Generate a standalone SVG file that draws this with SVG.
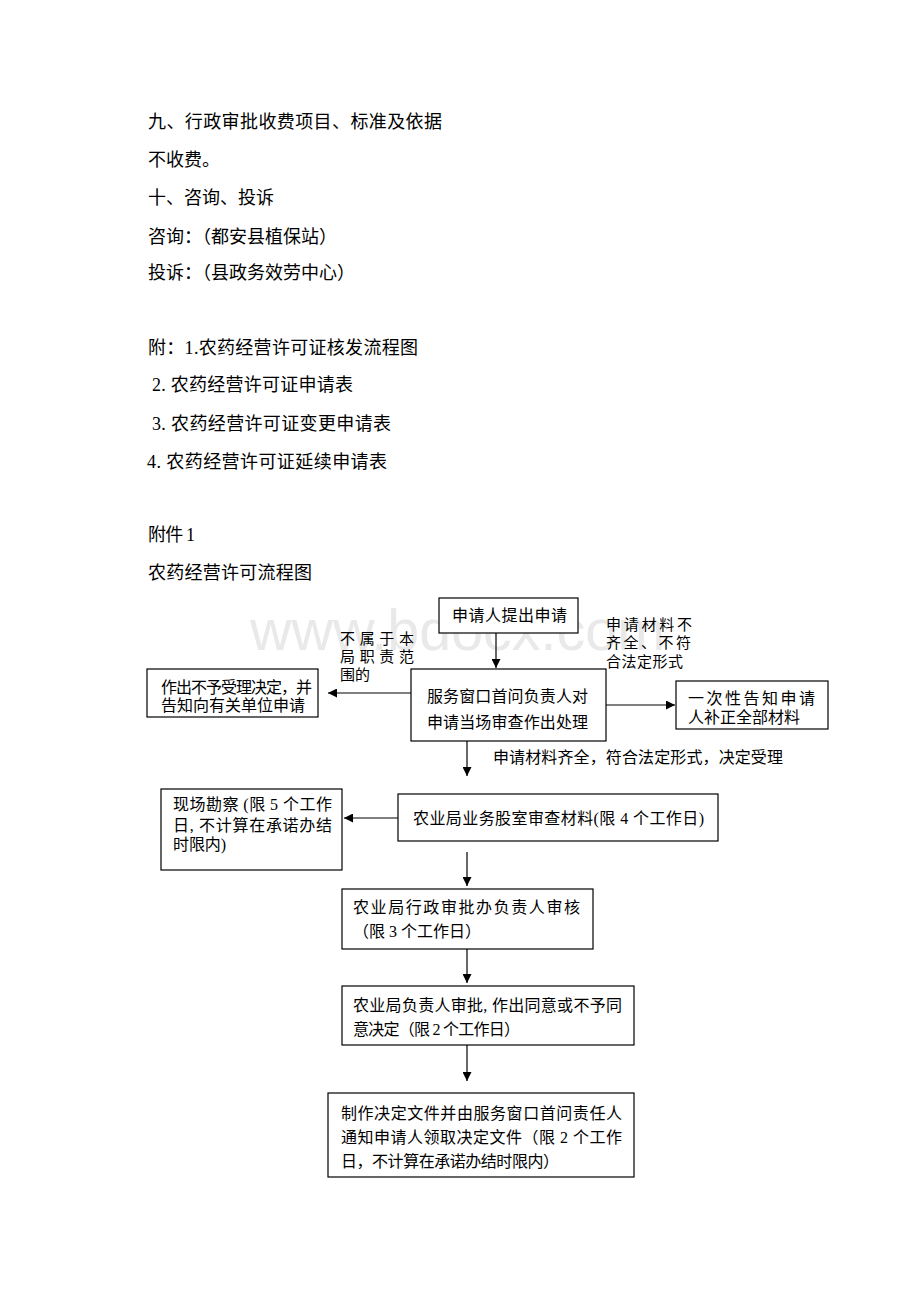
<svg xmlns="http://www.w3.org/2000/svg" width="920" height="1302" viewBox="0 0 920 1302">
<style>
.t{font-family:"Liberation Serif","Noto Sans CJK SC",serif;font-size:18px;fill:#000}
.b{font-family:"Liberation Serif","Noto Sans CJK SC",serif;font-size:16px;fill:#000}
.l{font-family:"Liberation Serif","Noto Sans CJK SC",serif;font-size:15px;fill:#000}
.box{fill:#fff;stroke:#000;stroke-width:1.2}
.c{fill:none;stroke:#000;stroke-width:1.2}
.wm{font-family:"Liberation Sans",Arial,sans-serif;font-size:58px;fill:#e9e9e9}
</style>
<defs>
<marker id="ah" viewBox="0 0 10 10" refX="10" refY="5" markerWidth="9" markerHeight="9" markerUnits="userSpaceOnUse" orient="auto">
<path d="M0,0 L10,5 L0,10 z" fill="#000"/>
</marker>
</defs>
<rect width="920" height="1302" fill="#fff"/>
<text class="wm" x="250" y="650" textLength="415" lengthAdjust="spacingAndGlyphs">www.bdocx.com</text>
<g id="header">
<text class="t" x="148" y="128.3" textLength="294">九、行政审批收费项目、标准及依据</text>
<text class="t" x="148" y="166.3">不收费。</text>
<text class="t" x="148" y="204.3">十、咨询、投诉</text>
<text class="t" x="148" y="243.3">咨询：（都安县植保站）</text>
<text class="t" x="148" y="279.3">投诉：（县政务效劳中心）</text>
<text class="t" x="148" y="354.3" textLength="270">附：1.农药经营许可证核发流程图</text>
<text class="t" x="152" y="391.3" textLength="201">2. 农药经营许可证申请表</text>
<text class="t" x="152" y="430.3" textLength="239">3. 农药经营许可证变更申请表</text>
<text class="t" x="147" y="468.3" textLength="240">4. 农药经营许可证延续申请表</text>
<text class="t" x="148" y="541.3" textLength="47">附件 1</text>
<text class="t" x="148" y="579.3" textLength="164">农药经营许可流程图</text>
</g>
<g id="connectors">
<path class="c" d="M496,633 V668" marker-end="url(#ah)"/>
<path class="c" d="M411,693 H328" marker-end="url(#ah)"/>
<path class="c" d="M606,705 H675" marker-end="url(#ah)"/>
<path class="c" d="M467,741 V776" marker-end="url(#ah)"/>
<path class="c" d="M398,818 H344" marker-end="url(#ah)"/>
<path class="c" d="M467,852 V886" marker-end="url(#ah)"/>
<path class="c" d="M467,949 V983" marker-end="url(#ah)"/>
<path class="c" d="M467,1045 V1081" marker-end="url(#ah)"/>
</g>
<g id="labels">
<text class="l" x="340" y="644.3" textLength="74">不属于本</text>
<text class="l" x="340" y="662.3" textLength="74">局职责范</text>
<text class="l" x="340" y="680.3" textLength="30">围的</text>
<text class="l" x="606" y="630.3" textLength="86">申请材料不</text>
<text class="l" x="606" y="648.3" textLength="85">齐全、不符</text>
<text class="l" x="606" y="667.3" textLength="77">合法定形式</text>
<text class="b" x="493" y="762.6" textLength="290">申请材料齐全，符合法定形式，决定受理</text>
</g>
<g id="n_apply">
<rect class="box" x="439" y="598" width="139" height="35"/>
<text class="b" x="452" y="620.6" textLength="115">申请人提出申请</text>
</g>
<g id="n_window">
<rect class="box" x="411" y="669" width="195" height="72"/>
<text class="b" x="427" y="701.6" textLength="161">服务窗口首问负责人对</text>
<text class="b" x="427" y="727.6" textLength="161">申请当场审查作出处理</text>
</g>
<g id="n_reject">
<rect class="box" x="147" y="669" width="171" height="48"/>
<text class="b" x="161" y="692.6" textLength="151">作出不予受理决定，并</text>
<text class="b" x="161" y="710.6" textLength="144">告知向有关单位申请</text>
</g>
<g id="n_notify">
<rect class="box" x="676" y="681" width="152" height="48"/>
<text class="b" x="688" y="703.6" textLength="127">一次性告知申请</text>
<text class="b" x="688" y="722.6" textLength="112">人补正全部材料</text>
</g>
<g id="n_survey">
<rect class="box" x="161" y="789" width="181" height="81"/>
<text class="b" x="173" y="809.6" textLength="159">现场勘察 (限 5 个工作</text>
<text class="b" x="173" y="830.6" textLength="159">日, 不计算在承诺办结</text>
<text class="b" x="173" y="849.6" textLength="53">时限内)</text>
</g>
<g id="n_review">
<rect class="box" x="398" y="794" width="320" height="47"/>
<text class="b" x="413" y="823.6" textLength="291">农业局业务股室审查材料(限 4 个工作日)</text>
</g>
<g id="n_office">
<rect class="box" x="342" y="889" width="251" height="60"/>
<text class="b" x="353" y="912.6" textLength="227">农业局行政审批办负责人审核</text>
<text class="b" x="353" y="936.6">（限 3 个工作日）</text>
</g>
<g id="n_head">
<rect class="box" x="342" y="986" width="292" height="59"/>
<text class="b" x="353" y="1010.6" textLength="269">农业局负责人审批, 作出同意或不予同</text>
<text class="b" x="353" y="1034.6" textLength="167">意决定（限 2 个工作日）</text>
</g>
<g id="n_issue">
<rect class="box" x="328" y="1093" width="306" height="84"/>
<text class="b" x="341" y="1118.6" textLength="281">制作决定文件并由服务窗口首问责任人</text>
<text class="b" x="341" y="1142.6" textLength="281">通知申请人领取决定文件（限 2 个工作</text>
<text class="b" x="341" y="1166.6" textLength="218">日，不计算在承诺办结时限内）</text>
</g>
</svg>
